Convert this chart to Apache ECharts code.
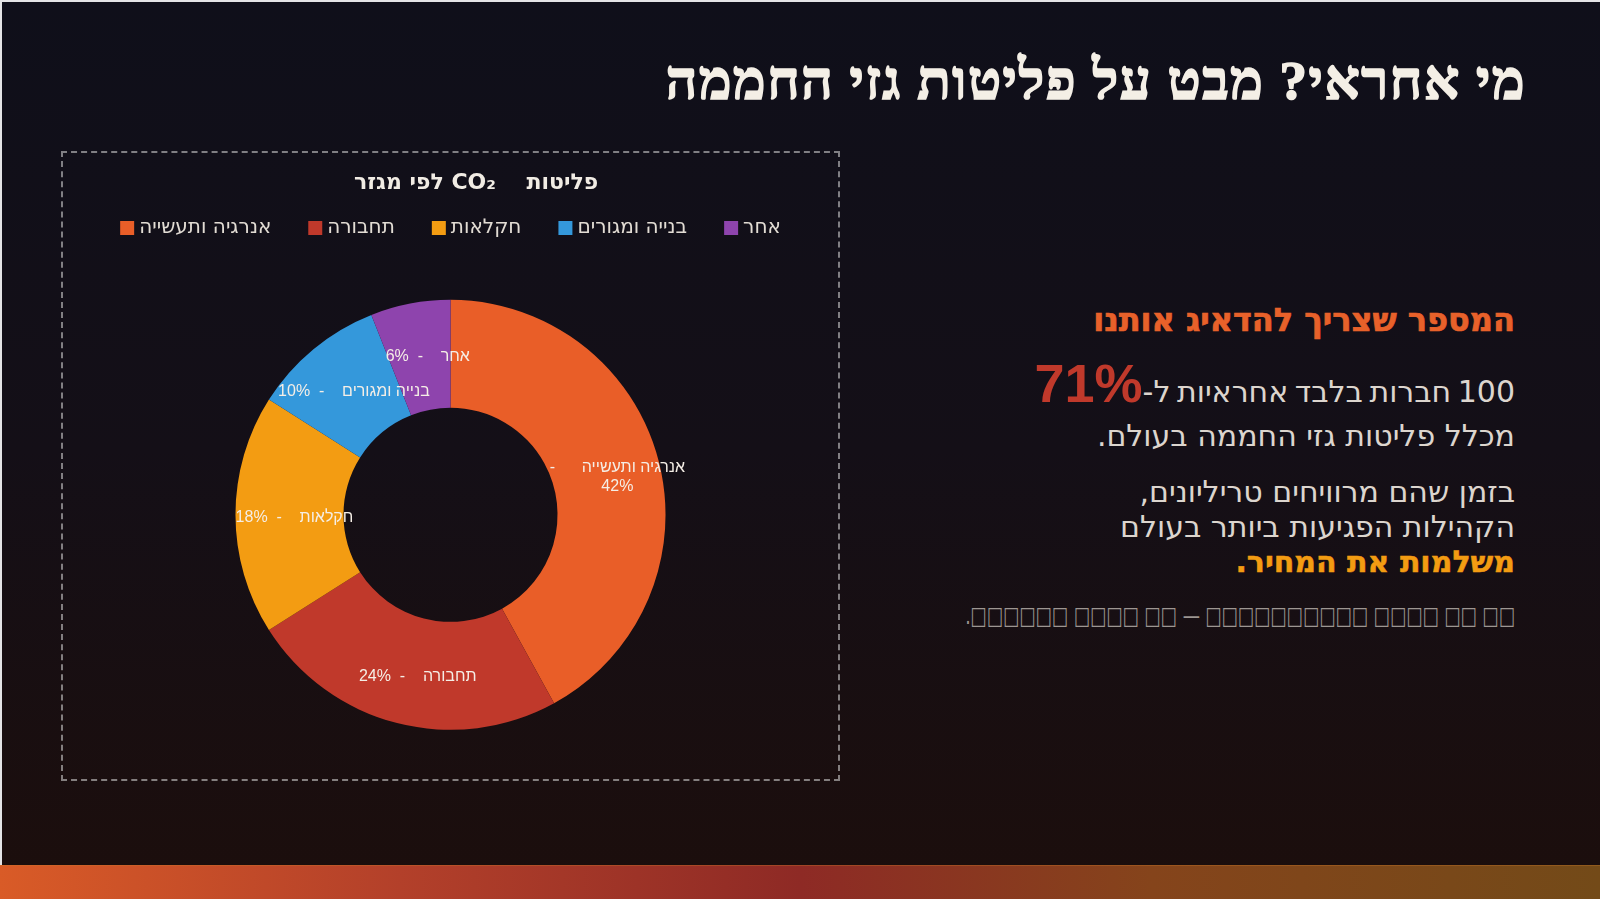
<!DOCTYPE html>
<html lang="he" dir="rtl">
<head>
<meta charset="utf-8">
<title>מי אחראי? מבט על פליטות גזי החממה</title>
<script src="https://cdn.jsdelivr.net/npm/echarts@6/dist/echarts.min.js"></script>
<style>
  html, body { margin: 0; padding: 0; }
  body {
    width: 1600px; height: 899px; position: relative; overflow: hidden;
    background: linear-gradient(180deg, #0f0f1a 0%, #140f17 50%, #1c0e0c 100%);
    font-family: "DejaVu Sans", sans-serif;
  }
  .edge-top { position: absolute; left: 0; top: 0; width: 1600px; height: 2px; background: #e4e4e6; }
  .edge-left { position: absolute; left: 0; top: 0; width: 2px; height: 899px; background: #e4e4e6; }
  .title {
    position: absolute; right: 74px; top: 53px; white-space: nowrap;
    font-family: "Liberation Serif", serif; font-weight: bold; font-size: 55px; line-height: 1;
    letter-spacing: 1.5px; -webkit-text-stroke: 1.6px #f4efe6;
    color: #f4efe6;
  }
  .chart-box {
    position: absolute; left: 61px; top: 151px; width: 779px; height: 630px;
    box-sizing: border-box; border: 2px dashed rgba(220,220,220,0.55);
  }
  #chart { width: 100%; height: 100%; }
  .txt {
    position: absolute; right: 85px; white-space: nowrap; line-height: 1; text-align: right;
    color: #dcd5ce; font-size: 30px; font-weight: normal;
  }
  .head { color: #e8612a; font-weight: bold; font-size: 32px; -webkit-text-stroke: 0.7px #e8612a; }
  .big { color: #c0392b; font-weight: bold; font-size: 54px; font-family: "Liberation Sans", sans-serif; word-spacing: 0; }
  .amber { color: #f39c12; font-weight: bold; -webkit-text-stroke: 0.5px #f39c12; }
  .note { color: #9d9692; font-size: 25px; transform: scaleX(0.69); transform-origin: right center; }
  .bar {
    position: absolute; left: 0; top: 865px; width: 1600px; height: 34px;
    border-top: 1px solid rgba(200,120,40,0.35);
    background: linear-gradient(90deg, #d95b27 0%, #b3402a 25%, #8e2a25 50%, #85441b 72%, #734a18 100%);
  }
</style>
</head>
<body>
<div class="edge-top"></div>
<div class="edge-left"></div>
<div class="title">מי אחראי? מבט על פליטות גזי החממה</div>

<div class="chart-box"><div id="chart"></div></div>

<div class="txt head" style="top:304px">המספר שצריך להדאיג אותנו</div>
<div class="txt" style="top:356px; word-spacing:-3px">100 חברות בלבד אחראיות ל-<span class="big">71%</span></div>
<div class="txt" style="top:421px">מכלל פליטות גזי החממה בעולם.</div>
<div class="txt" style="top:477px">בזמן שהם מרוויחים טריליונים,</div>
<div class="txt" style="top:512px">הקהילות הפגיעות ביותר בעולם</div>
<div class="txt amber" style="top:547px">משלמות את המחיר.</div>
<div class="txt note" style="top:603px">□□ □□ □□□□ □□□□□□□□□□ — □□ □□□□ □□□□□□.</div>

<div class="bar"></div>

<script>
// נתוני הגרף
const chartTitle = 'פליטות    CO₂ לפי מגזר';
const sectors = ['אנרגיה ותעשייה', 'תחבורה', 'חקלאות', 'בנייה ומגורים', 'אחר'];
const shares = [42, 24, 18, 10, 6]; // אחוזים
const sectorColors = ['#e95e28', '#c0392b', '#f39c12', '#3498db', '#8e44ad'];

const chart = echarts.init(document.getElementById('chart'));

let pieData = sectors.map(function (name, i) {
  return { name: name, value: shares[i], itemStyle: { color: sectorColors[i] } };
});

chart.setOption({
  backgroundColor: 'transparent',
  title: {
    text: chartTitle,
    left: 286,
    top: 14,
    textStyle: { color: '#f1ece4', fontSize: 22, fontWeight: 'bold', fontFamily: 'DejaVu Sans' }
  },
  legend: {
    data: sectors,
    left: 'center',
    top: 60,
    itemWidth: 14,
    itemHeight: 14,
    itemGap: 37,
    icon: 'rect',
    textStyle: { color: '#e2dcd4', fontSize: 20, fontFamily: 'DejaVu Sans' }
  },
  series: [{
    type: 'pie',
    radius: ['34.2%', '68.7%'],
    center: ['50%', '57.8%'],
    startAngle: 90,
    clockwise: true,
    avoidLabelOverlap: false,
    label: {
      show: true,
      position: 'inside',
      offset: [8, 3],
      formatter: function (p) {
        // התווית של המגזר הגדול נשברת לשתי שורות
        if (p.dataIndex === 0) return p.name + '      -\n' + p.value + '%';
        return p.name + '    -  ' + p.value + '%';
      },
      color: '#f5eee6',
      fontSize: 16,
      lineHeight: 19,
      fontFamily: 'Liberation Sans, sans-serif'
    },
    labelLine: { show: false },
    emphasis: { scale: false },
    data: pieData
  }]
});
</script>
</body>
</html>
